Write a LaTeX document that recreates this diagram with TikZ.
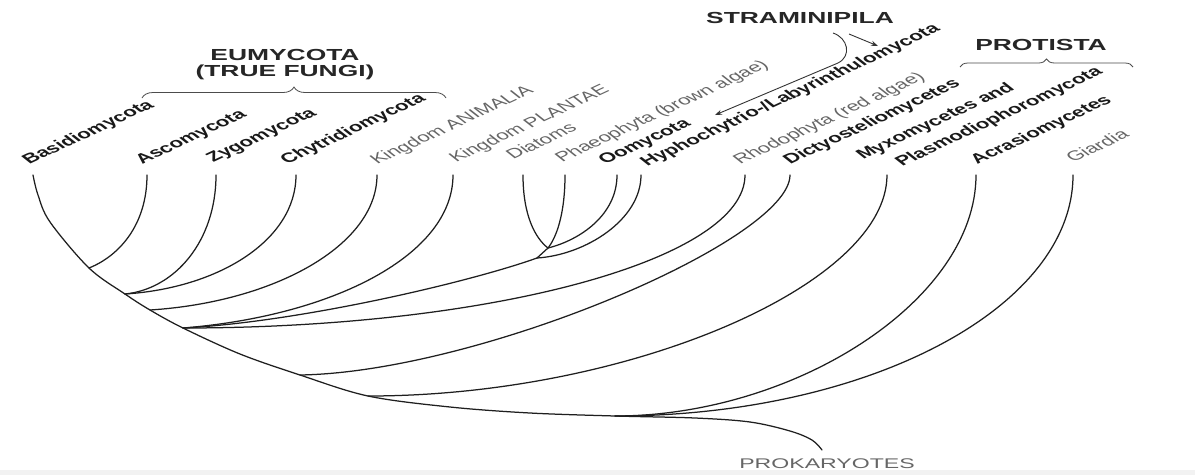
\documentclass[tikz,border=0pt]{standalone}
\usepackage{fontspec}
\setmainfont{Liberation Sans}
\usetikzlibrary{decorations.pathreplacing,arrows.meta}
\begin{document}
\begin{tikzpicture}[x=1pt,y=-1pt,
  br/.style={line width=1.25pt, draw=black!88, line cap=round},
  lab/.style={anchor=base west, inner sep=0pt, xscale=1.65, rotate=37.5, font=\fontsize{13.5}{16}\selectfont},
  blab/.style={lab, font=\fontsize{13.5}{16}\selectfont\bfseries, text=black!90},
  glab/.style={lab, text=black!60},
  hdr/.style={anchor=base, inner sep=0pt, xscale=1.65, font=\fontsize{16}{19}\selectfont\bfseries, text=black!85},
  brc/.style={decorate, decoration={brace, amplitude=#1}, line width=0.8pt, draw=black!70},
  arr/.style={line width=0.9pt, draw=black!80, -{Stealth[length=7pt,width=5pt]}}
]
\useasboundingbox (0,0) rectangle (1195,475);
\fill[white] (0,0) rectangle (1195,475);
\fill[black!5] (0,470) rectangle (1195,475);

% tips
\coordinate (tB) at (33,175);
\coordinate (tAs) at (147,175);
\coordinate (tZ) at (216,175);
\coordinate (tC) at (296,175);
\coordinate (tAn) at (377,175);
\coordinate (tPl) at (453,175);
\coordinate (tDi) at (523,175);
\coordinate (tPh) at (565,175);
\coordinate (tOo) at (617,175);
\coordinate (tHy) at (641,175);
\coordinate (tRh) at (745,175);
\coordinate (tDy) at (790,175);
\coordinate (tMy) at (887,175);
\coordinate (tAc) at (976,175);
\coordinate (tGi) at (1073,175);
% junctions
\coordinate (j1) at (89,268);
\coordinate (j2) at (125,294);
\coordinate (j3) at (150,310);
\coordinate (j4) at (183,328);
\coordinate (j5) at (300,375);
\coordinate (j6) at (368,396);
\coordinate (j7) at (615,416);
\coordinate (root) at (822,450);
\coordinate (s1) at (548,248);
\coordinate (s2) at (537,258);

% trunk
\draw[br] plot[smooth, tension=0.55] coordinates {(tB) (38,195) (50,222) (j1) (j2) (j3) (j4) (240,354) (j5) (j6) (450,407) (530,413) (j7) (695,418) (750,422) (790,431) (812,440) (root)};

% branches
\draw[br] (tAs) .. controls +(0,50) and +(30,-12) .. (j1);
\draw[br] (tZ) .. controls +(0,66) and +(50,-5) .. (j2);
\draw[br] (tC) .. controls +(0,65) and +(94,-6) .. (j2);
\draw[br] (tAn) .. controls +(0,70) and +(125,-8) .. (j3);
\draw[br] (tPl) .. controls +(0,80) and +(150,-12) .. (j4);
\draw[br] (s2) .. controls (470,282) and (300,322) .. (j4);
\draw[br] (tRh) .. controls +(0,84) and +(311,0) .. (j4);
\draw[br] (tDy) .. controls +(0,65) and +(180,-3) .. (j5);
\draw[br] (tMy) .. controls +(0,110) and +(260,0) .. (j6);
\draw[br] (tAc) .. controls +(0,125) and +(180,0) .. (j7);
\draw[br] (tGi) .. controls +(0,133) and +(253,0) .. (j7);
\draw[br] (tDi) .. controls (523,215) and (535,238) .. (s1);
\draw[br] (tPh) .. controls (565,215) and (556,238) .. (s1);
\draw[br] (tOo) .. controls (617,215) and (580,240) .. (s1);
\draw[br] (tHy) .. controls (641,220) and (585,255) .. (s2);
\draw[br] (s1) -- (s2);

% labels
\node[blab] (lB) at (29,165) {Basidiomycota};
\node[blab] (lAs) at (142,165) {Ascomycota};
\node[blab] (lZ) at (213,163) {Zygomycota};
\node[blab] (lC) at (287,165) {Chytridiomycota};
\node[glab] (lAn) at (377,165) {Kingdom ANIMALIA};
\node[glab] (lPl) at (456,163) {Kingdom PLANTAE};
\node[glab] (lDi) at (513,160) {Diatoms};
\node[glab] (lPh) at (562,163) {Phaeophyta (brown algae)};
\node[blab] (lOo) at (605,165) {Oomycota};
\node[blab] (lHy) at (647,167) {Hyphochytrio-/Labyrinthulomycota};
\node[glab] (lRh) at (740,165) {Rhodophyta (red algae)};
\node[blab] (lDy) at (790,165) {Dictyosteliomycetes};
\node[blab] (lMy) at (863,160) {Myxomycetes and};
\node[blab] (lPm) at (902,167) {Plasmodiophoromycota};
\node[blab] (lAc) at (977,165) {Acrasiomycetes};
\node[glab] (lGi) at (1073,163) {Giardia};

% headers
\node[hdr] (eu) at (285,60) {EUMYCOTA};
\node[hdr] (tf) at (285,76) {(TRUE FUNGI)};
\node[hdr] (st) at (800,23) {STRAMINIPILA};
\node[hdr] (pr) at (1041,50) {PROTISTA};
\node[anchor=base, inner sep=0pt, xscale=1.65, font=\fontsize{14}{16}\selectfont, text=black!60] (pk) at (827,468) {PROKARYOTES};

% braces
\coordinate (eL) at (142,98);
\coordinate (eR) at (446,98);
\draw[brc=11pt] (eL) -- (eR);
\coordinate (pL) at (960,67);
\coordinate (pR) at (1133,67);
\draw[brc=8pt] (pL) -- (pR);

% straminipila arrows
\coordinate (a0) at (833,33);
\coordinate (a1) at (715,115);
\coordinate (b0) at (849,34);
\coordinate (b1) at (878,46);
\draw[arr] (a0) .. controls (848,38) and (852,56) .. (838,63) -- (a1);
\draw[arr] (b0) -- (b1);
\end{tikzpicture}
\end{document}
